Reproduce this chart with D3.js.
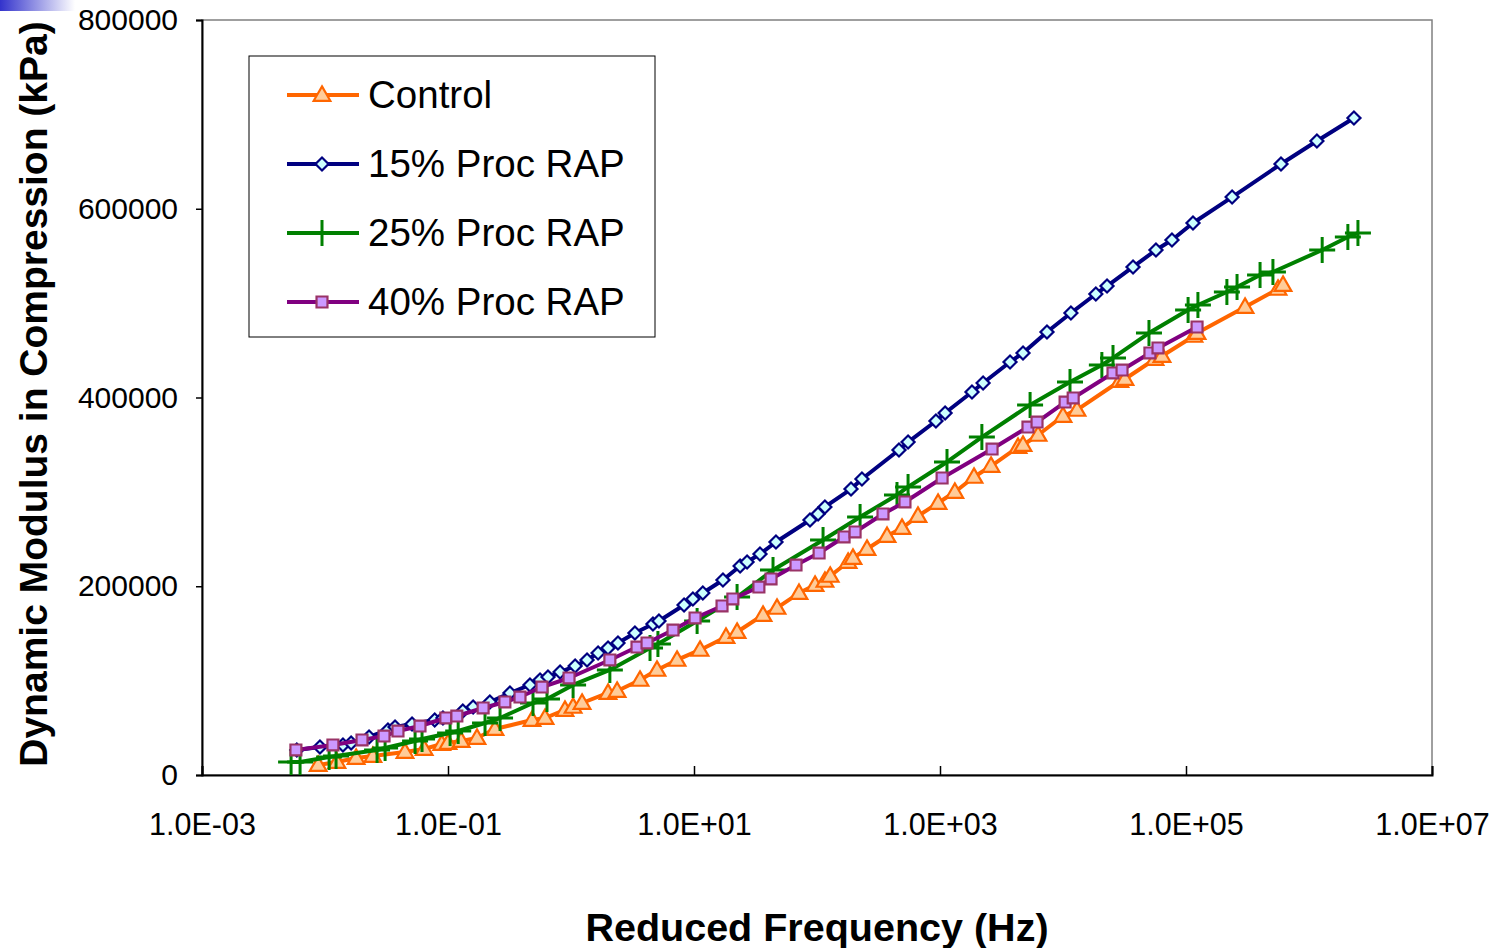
<!DOCTYPE html>
<html lang="en">
<head>
  <meta charset="UTF-8">
  <title>Dynamic Modulus</title>
  <style>
    body { margin: 0; background: #fff; }
    text { font-family: "Liberation Sans", Arial, sans-serif; }
  </style>
</head>
<body>

  <svg id="svg" width="1498" height="948"></svg>

  <script src="https://d3js.org/d3.v7.min.js"></script>
  <script>

    // reduced frequency (Hz) and modulus (kPa)
    const controlFreq = [8.8e-3, 1.25e-2, 1.79e-2, 2.45e-2, 4.47e-2, 6.4e-2, 8.9e-2, 0.1, 0.128, 0.172,
      0.241, 0.482, 0.615, 0.893, 1.04, 1.23, 2.0, 2.37, 3.64, 5.0, 7.28, 11.2, 18.2, 22.4, 36.4, 47.3,
      71.4, 96.4, 116, 128, 179, 196, 255, 371, 491, 662, 964, 1320, 1890, 2600, 4310, 4730, 6270,
      10000, 13000, 29000, 31900, 56000, 63800, 116000, 123000, 302000, 560000, 615000]
    const controlMod = [10600, 13800, 18000, 20100, 24400, 27500, 32800, 33900, 36000, 39200,
      48700, 58300, 60400, 68900, 72100, 76300, 86900, 89000, 100700, 111300, 121900, 132500, 146200, 151500, 169500, 177000,
      192800, 201300, 205600, 210900, 225700, 229900, 239500, 253200, 261700, 274400, 288200, 299900, 315800, 327400, 347500, 349700, 360300,
      380400, 386800, 417500, 419600, 440800, 444000, 465200, 468300, 495900, 515000, 519200]

    const rap15Freq = [5.9e-3, 9.1e-3, 1.4e-2, 1.63e-2, 2.28e-2, 3.25e-2, 3.71e-2, 5.1e-2, 7.8e-2, 9.1e-2,
      0.132, 0.16, 0.219, 0.319, 0.464, 0.56, 0.65, 0.815, 1.08, 1.35, 1.66, 2.0, 2.41, 3.31, 4.64, 5.19,
      8.3, 9.8, 11.8, 17.2, 23.7, 27.0, 34.4, 46.4, 87.7, 102, 116, 189, 232, 464, 550, 927, 1100,
      1820, 2240, 3710, 4730, 7410, 11600, 18500, 22800, 37100, 57000, 76900, 114000, 237000, 592000,
      1160000, 2320000]
    const rap15Mod = [26500, 29700, 31800, 33900, 40300, 47700, 50900, 54000, 58300, 60400,
      67800, 72100, 77400, 86900, 95400, 100700, 103800, 109100, 115500, 121900, 129300, 134600, 139900, 150500, 160000, 163200,
      180100, 186500, 192800, 206600, 221500, 225700, 234200, 246900, 270200, 276600, 284000, 303000, 313600, 344400, 352800, 375100, 383600,
      405800, 415400, 437600, 447100, 469400, 489500, 509700, 518100, 538300, 556300, 566900, 584900, 612400, 647400,
      671800, 696200]

    const rap25Freq = [5.3e-3, 6.27e-3, 1.08e-2, 1.23e-2, 2.65e-2, 3.08e-2, 5.4e-2, 6.15e-2, 0.104, 0.121,
      0.2, 0.265, 0.491, 0.638, 1.04, 2.07, 4.39, 5.09, 10.6, 22.4, 43.9, 112, 224, 447, 550,
      1140, 2190, 5400, 11400, 20700, 25500, 50000, 104000, 125000, 215000, 260000, 400000, 509000,
      1280000, 2070000, 2500000]
    const rap25Mod = [13800, 13800, 19100, 20100, 26500, 28600, 36000, 38100, 44500, 46600,
      55100, 60400, 76300, 80500, 95400, 111300, 134600, 138800, 163200, 188600, 217200, 249000, 273400, 296700, 305200,
      331700, 358100, 392100, 416400, 434400, 441900, 468300, 492700, 498000, 511800, 517100, 529800, 533000,
      556300, 570100, 574300]

    const rap40Freq = [5.8e-3, 1.16e-2, 2.0e-2, 3.02e-2, 3.92e-2, 5.92e-2, 9.6e-2, 0.118, 0.193, 0.29,
      0.385, 0.581, 0.964, 2.07, 3.44, 4.15, 6.75, 10.2, 16.9, 20.7, 33.7, 42.3, 67.5, 104, 166, 204,
      344, 519, 1040, 2650, 5190, 6150, 10400, 12100, 25500, 30200, 50900, 59200, 123000]
    const rap40Mod = [26500, 31800, 37100, 41300, 46600, 51900, 60400, 62500, 71000, 77400,
      82600, 93200, 102800, 121900, 135600, 139900, 153600, 166400, 179100, 186500, 199200, 207700, 222500, 235200, 252200, 257500,
      276600, 289300, 314700, 345400, 368700, 374000, 395200, 399500, 426000, 429100, 447200, 452500, 474700]

    const seriesNames = ['Control', '15% Proc RAP', '25% Proc RAP', '40% Proc RAP']
    const xTicks = [1e-3, 1e-1, 1e1, 1e3, 1e5, 1e7]
    const xTickLabels = ['1.0E-03', '1.0E-01', '1.0E+01', '1.0E+03', '1.0E+05', '1.0E+07']
    const yTicks = [0, 200000, 400000, 600000, 800000]

    const series = [
      { name: seriesNames[0], freq: controlFreq, mod: controlMod, line: '#ff6600', fill: '#ffcc99', stroke: '#ff6600', marker: 'triangle' },
      { name: seriesNames[1], freq: rap15Freq, mod: rap15Mod, line: '#000080', fill: '#ccffff', stroke: '#000080', marker: 'diamond' },
      { name: seriesNames[2], freq: rap25Freq, mod: rap25Mod, line: '#008000', fill: 'none', stroke: '#008000', marker: 'plus' },
      { name: seriesNames[3], freq: rap40Freq, mod: rap40Mod, line: '#800080', fill: '#cc99ff', stroke: '#993366', marker: 'square' }
    ]

    const svg = d3.select('#svg')
    const plotLeft = 202, plotRight = 1432, plotTop = 20, plotBottom = 775

    const xScale = d3.scaleLog().domain([1e-3, 1e7]).range([plotLeft, plotRight])
    const yScale = d3.scaleLinear().domain([0, 800000]).range([plotBottom, plotTop])

    // little slide decoration in the corner
    const grad = svg.append('defs').append('linearGradient').attr('id', 'corner')
    grad.append('stop').attr('offset', '0%').attr('stop-color', '#3333cc')
    grad.append('stop').attr('offset', '100%').attr('stop-color', '#ffffff')
    svg.append('rect').attr('x', 0).attr('y', 0).attr('width', 75).attr('height', 11).attr('fill', 'url(#corner)')

    // frame
    svg.append('rect')
      .attr('x', plotLeft).attr('y', plotTop)
      .attr('width', plotRight - plotLeft).attr('height', plotBottom - plotTop)
      .attr('fill', 'none').attr('stroke', '#808080').attr('stroke-width', 1.5)

    // axes
    const xAxis = d3.axisBottom(xScale).tickValues(xTicks).tickFormat((d, i) => xTickLabels[i]).tickSize(-9).tickPadding(38)
    const gx = svg.append('g').attr('transform', `translate(0,${plotBottom})`).call(xAxis)
    gx.select('.domain').attr('stroke', '#000').attr('stroke-width', 2)
    gx.selectAll('.tick line').attr('stroke', '#000').attr('stroke-width', 1.5)
    gx.selectAll('.tick text').attr('font-size', 30.5).attr('fill', '#000')
      .style('font-family', '"Liberation Sans", Arial, sans-serif')

    const yAxis = d3.axisLeft(yScale).tickValues(yTicks).tickFormat(d3.format('d')).tickSize(6).tickPadding(18)
    const gy = svg.append('g').attr('transform', `translate(${plotLeft},0)`).call(yAxis)
    gy.select('.domain').attr('stroke', '#000').attr('stroke-width', 2)
    gy.selectAll('.tick line').attr('stroke', '#000').attr('stroke-width', 1.5)
    gy.selectAll('.tick text').attr('font-size', 30).attr('fill', '#000')
      .style('font-family', '"Liberation Sans", Arial, sans-serif')

    // axis titles
    svg.append('text')
      .attr('x', 817).attr('y', 941)
      .attr('text-anchor', 'middle')
      .attr('font-size', 39.5).attr('font-weight', 'bold')
      .text('Reduced Frequency (Hz)')

    svg.append('text')
      .attr('transform', 'translate(47,394) rotate(-90)')
      .attr('text-anchor', 'middle')
      .attr('font-size', 39).attr('font-weight', 'bold')
      .text('Dynamic Modulus in Compression (kPa)')

    const symbols = {
      triangle: d3.symbol().type(d3.symbolTriangle).size(120),
      diamond: d3.symbol().type(d3.symbolSquare).size(85),
      square: d3.symbol().type(d3.symbolSquare).size(120)
    }

    function drawMarker(g, s) {
      if (s.marker === 'plus') {
        g.append('path')
          .attr('d', 'M-13,0H13M0,-13V13')
          .attr('stroke', s.stroke).attr('stroke-width', 3).attr('fill', 'none')
      } else {
        g.append('path')
          .attr('d', symbols[s.marker]())
          .attr('transform', s.marker === 'diamond' ? 'rotate(45)' : s.marker === 'triangle' ? 'translate(0,1)' : null)
          .attr('fill', s.fill).attr('stroke', s.stroke).attr('stroke-width', 2.2)
      }
    }

    const line = d3.line()
      .x(d => xScale(d[0]))
      .y(d => yScale(d[1]))

    series.forEach(s => {
      const pts = s.freq.map((f, i) => [f, s.mod[i]])
      svg.append('path')
        .datum(pts)
        .attr('d', line)
        .attr('fill', 'none')
        .attr('stroke', s.line)
        .attr('stroke-width', 4)
        .attr('stroke-linejoin', 'round')

      svg.append('g')
        .selectAll('g')
        .data(pts)
        .enter()
        .append('g')
        .attr('transform', d => `translate(${xScale(d[0])},${yScale(d[1])})`)
        .each(function () { drawMarker(d3.select(this), s) })
    })

    // legend
    const legend = svg.append('g')
    legend.append('rect')
      .attr('x', 249).attr('y', 56).attr('width', 406).attr('height', 281)
      .attr('fill', '#fff').attr('stroke', '#000').attr('stroke-width', 1)

    const legendY = d3.scalePoint().domain(seriesNames).range([95, 302])
    series.forEach(s => {
      const y = legendY(s.name)
      legend.append('line')
        .attr('x1', 287).attr('x2', 359).attr('y1', y).attr('y2', y)
        .attr('stroke', s.line).attr('stroke-width', 4)
      const m = legend.append('g').attr('transform', `translate(322,${y})`)
      drawMarker(m, s)
      legend.append('text')
        .attr('x', 368).attr('y', y + 13)
        .attr('font-size', 38.5)
        .text(s.name)
    })

  </script>
</body>
</html>
